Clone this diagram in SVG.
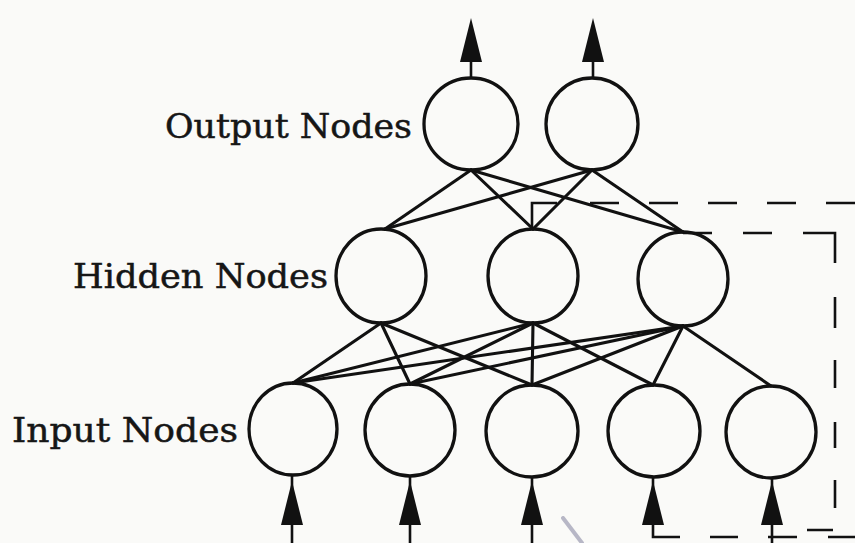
<svg xmlns="http://www.w3.org/2000/svg" width="855" height="543" viewBox="0 0 855 543">
  <style>
    .node { fill: none; stroke: #111; stroke-width: 3.3; }
    .edge { stroke: #111; stroke-width: 3.1; fill: none; stroke-linecap: round; }
    .io { stroke: #111; stroke-width: 2.6; fill: none; }
    .head { fill: #111; }
    .dash { stroke: #111; stroke-width: 2.6; fill: none; }
    .lbl { font-family: "DejaVu Serif", "Liberation Serif", serif; font-size: 34px; fill: #161616; stroke: #161616; stroke-width: 0.5; }
  </style>
  <defs>
    <polygon id="up" class="head" points="0,-22 -11,22 11,22"/>
  </defs>
  <rect width="855" height="543" fill="#fafaf8"/>

  <!-- labels -->
  <text class="lbl" x="165" y="138" textLength="247" lengthAdjust="spacingAndGlyphs">Output Nodes</text>
  <text class="lbl" x="73" y="288" textLength="255" lengthAdjust="spacingAndGlyphs">Hidden Nodes</text>
  <text class="lbl" x="12" y="442" textLength="226" lengthAdjust="spacingAndGlyphs">Input Nodes</text>

  <!-- dashed outlines around the highlighted sub-network -->
  <g id="outline">
    <path class="dash" d="M532,228 V203 H557"/>
    <path class="dash" d="M590,203 H855" stroke-dasharray="29 30"/>
    <path class="dash" d="M683,233 H712 M743,233 H772 M803,233 H835 V263 M835,297 V328 M835,360 V388 M835,422 V448 M835,480 V508 M807,530 H833"/>
    <path class="dash" d="M653,520 V537 H680 M710,537 H738 M768,537 H797 M828,537 H855"/>
  </g>

  <!-- connectors -->
  <g id="connectors">
    <!-- output to hidden -->
    <line class="edge" x1="471" y1="170" x2="385" y2="229"/>
    <line class="edge" x1="471" y1="170" x2="533" y2="229"/>
    <line class="edge" x1="471" y1="170" x2="683" y2="232"/>
    <line class="edge" x1="592" y1="170" x2="385" y2="229"/>
    <line class="edge" x1="592" y1="170" x2="533" y2="229"/>
    <line class="edge" x1="592" y1="170" x2="683" y2="232"/>
    <!-- hidden to input -->
    <line class="edge" x1="381" y1="323" x2="293" y2="383"/>
    <line class="edge" x1="381" y1="323" x2="410" y2="384"/>
    <line class="edge" x1="381" y1="323" x2="532" y2="385"/>
    <line class="edge" x1="533" y1="323" x2="293" y2="383"/>
    <line class="edge" x1="533" y1="323" x2="410" y2="384"/>
    <line class="edge" x1="533" y1="323" x2="532" y2="385"/>
    <line class="edge" x1="533" y1="323" x2="653" y2="385"/>
    <line class="edge" x1="683" y1="326" x2="293" y2="383"/>
    <line class="edge" x1="683" y1="326" x2="410" y2="384"/>
    <line class="edge" x1="683" y1="326" x2="532" y2="385"/>
    <line class="edge" x1="683" y1="326" x2="653" y2="385"/>
    <line class="edge" x1="683" y1="326" x2="771" y2="386"/>
    <!-- outputs leaving the network -->
    <line class="io" x1="471" y1="78" x2="471" y2="60"/>
    <use href="#up" x="471" y="40"/>
    <line class="io" x1="593" y1="78" x2="593" y2="60"/>
    <use href="#up" x="593" y="40"/>
    <!-- inputs entering the network -->
    <line class="io" x1="292" y1="476" x2="292" y2="543"/>
    <use href="#up" x="292" y="503"/>
    <line class="io" x1="410" y1="477" x2="410" y2="543"/>
    <use href="#up" x="410" y="503"/>
    <line class="io" x1="532" y1="478" x2="532" y2="543"/>
    <use href="#up" x="532" y="503"/>
    <line class="io" x1="653" y1="478" x2="653" y2="520"/>
    <use href="#up" x="653" y="503"/>
    <line class="io" x1="772" y1="479" x2="772" y2="543"/>
    <use href="#up" x="772" y="503"/>
  </g>

  <!-- output layer -->
  <g id="out1"><ellipse class="node" cx="471" cy="124" rx="47" ry="46"/></g>
  <g id="out2"><ellipse class="node" cx="592" cy="124" rx="46" ry="46"/></g>

  <!-- hidden layer -->
  <g id="hid1"><ellipse class="node" cx="381" cy="276" rx="45" ry="47"/></g>
  <g id="hid2"><ellipse class="node" cx="533" cy="276" rx="45" ry="47"/></g>
  <g id="hid3"><ellipse class="node" cx="683" cy="279" rx="45" ry="47"/></g>

  <!-- input layer -->
  <g id="in1"><ellipse class="node" cx="293" cy="429" rx="44" ry="46"/></g>
  <g id="in2"><ellipse class="node" cx="410" cy="430" rx="45" ry="46"/></g>
  <g id="in3"><ellipse class="node" cx="532" cy="431" rx="46" ry="46"/></g>
  <g id="in4"><ellipse class="node" cx="654" cy="431" rx="46" ry="46"/></g>
  <g id="in5"><ellipse class="node" cx="771" cy="432" rx="45" ry="46"/></g>

  <!-- stray pen stroke -->
  <line x1="563" y1="518" x2="582" y2="543" stroke="#8c8ca6" stroke-width="4" stroke-linecap="round" opacity="0.6"/>
</svg>
